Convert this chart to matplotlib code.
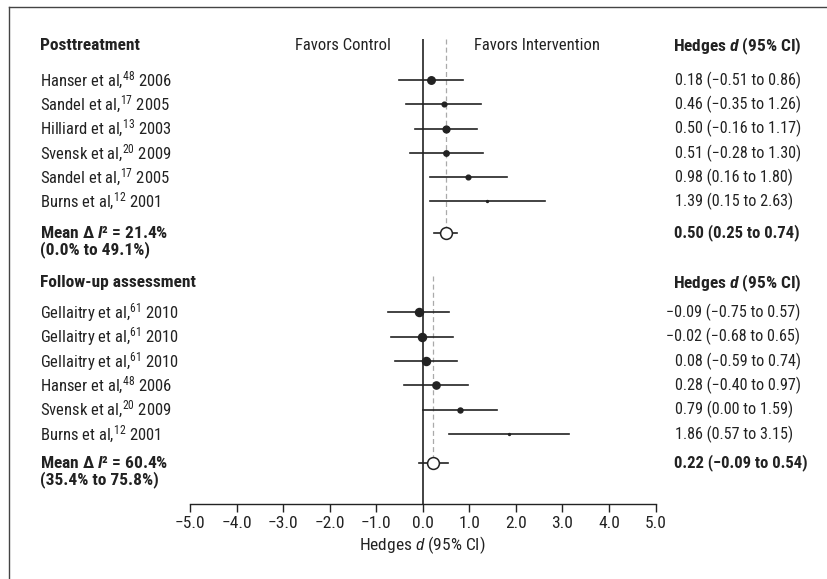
"""Forest plot of Hedges d by study, posttreatment and follow-up."""

import matplotlib

matplotlib.use("Agg")
import matplotlib.pyplot as plt
import matplotlib.transforms as mtransforms
from matplotlib import font_manager
from matplotlib.lines import Line2D

# prefer a condensed sans if one is around
_names = {f.name for f in font_manager.fontManager.ttflist}
FONT = next(n for n in ["Liberation Sans Narrow", "Roboto Condensed", "Roboto",
                        "Liberation Sans", "DejaVu Sans"] if n in _names)
plt.rcParams["font.family"] = [FONT, "DejaVu Sans"]
plt.rcParams["mathtext.fontset"] = "custom"
plt.rcParams["mathtext.rm"] = FONT
plt.rcParams["mathtext.it"] = FONT + ":italic"
plt.rcParams["mathtext.bf"] = FONT + ":bold:italic"

INK = "#222222"

# posttreatment studies
post_labels = [
    "Hanser et al,$^{48}$ 2006",
    "Sandel et al,$^{17}$ 2005",
    "Hilliard et al,$^{13}$ 2003",
    "Svensk et al,$^{20}$ 2009",
    "Sandel et al,$^{17}$ 2005",
    "Burns et al,$^{12}$ 2001",
]
post_d = [0.18, 0.46, 0.50, 0.51, 0.98, 1.39]
post_lo = [-0.51, -0.35, -0.16, -0.28, 0.16, 0.15]
post_hi = [0.86, 1.26, 1.17, 1.30, 1.80, 2.63]
post_weight = [5.4, 3.4, 4.9, 3.9, 3.4, 1.4]
post_mean = (0.50, 0.25, 0.74)
post_i2 = ("21.4%", "0.0%", "49.1%")

# follow-up studies
follow_labels = [
    "Gellaitry et al,$^{61}$ 2010",
    "Gellaitry et al,$^{61}$ 2010",
    "Gellaitry et al,$^{61}$ 2010",
    "Hanser et al,$^{48}$ 2006",
    "Svensk et al,$^{20}$ 2009",
    "Burns et al,$^{12}$ 2001",
]
follow_d = [-0.09, -0.02, 0.08, 0.28, 0.79, 1.86]
follow_lo = [-0.75, -0.68, -0.59, -0.40, 0.00, 0.57]
follow_hi = [0.57, 0.65, 0.74, 0.97, 1.59, 3.15]
follow_weight = [5.8, 5.8, 5.8, 5.2, 3.6, 1.4]
follow_mean = (0.22, -0.09, 0.54)
follow_i2 = ("60.4%", "35.4%", "75.8%")

x_ticks = [-5.0, -4.0, -3.0, -2.0, -1.0, 0.0, 1.0, 2.0, 3.0, 4.0, 5.0]


def fmt(v):
    return f"{v:.2f}".replace("-", "\u2212")


W, H = 827, 579
fig = plt.figure(figsize=(W / 100, H / 100), dpi=100)

# frame around the panel (open on the right and bottom)
fig.add_artist(Line2D([9 / W, 9 / W], [0, 1 - 7 / H], color="#444444", lw=1.0))
fig.add_artist(Line2D([9 / W, 1], [1 - 7 / H, 1 - 7 / H], color="#444444", lw=1.0))

ax_top, ax_bottom = 39, 504
ax = fig.add_axes([190 / W, 1 - ax_bottom / H, (655.5 - 190) / W, (ax_bottom - ax_top) / H])
ax.set_xlim(-5, 5)
ax.set_ylim(ax_bottom, ax_top)  # y in pixel rows, top down
for side in ("top", "right", "left"):
    ax.spines[side].set_visible(False)
ax.spines["bottom"].set_color(INK)
ax.spines["bottom"].set_linewidth(1.0)
ax.set_yticks([])
ax.set_xticks(x_ticks)
ax.set_xticklabels([f"{t:.1f}".replace("-", "\u2212") for t in x_ticks], fontsize=12.5, color=INK)
ax.tick_params(axis="x", length=6, width=1.0, color=INK, pad=3)
ax.set_xlabel("Hedges $\\mathit{d}$ (95% CI)", fontsize=12.5, color=INK, labelpad=2)
ax.patch.set_alpha(0)

# row layout
step = 24.3
post_y = [80 + step * i for i in range(6)]
post_mean_y = 233
follow_y = [312.5 + step * i for i in range(6)]
follow_mean_y = 463

# no-effect line
ax.plot([0, 0], [ax_top, ax_bottom], color=INK, lw=1.2, zorder=1)
# pooled-effect reference lines
ax.plot([post_mean[0]] * 2, [ax_top, post_mean_y], color="#aaaaaa", lw=0.9, ls=(0, (4, 2.5)), zorder=1)
ax.plot([follow_mean[0]] * 2, [276, follow_mean_y], color="#aaaaaa", lw=0.9, ls=(0, (4, 2.5)), zorder=1)


def draw_section(ys, d, lo, hi, wt, mean, mean_y):
    for y, dv, l, h, w in zip(ys, d, lo, hi, wt):
        ax.plot([l, h], [y, y], color=INK, lw=1.2, zorder=2)
        ax.plot(dv, y, "o", color=INK, ms=w, mec=INK, zorder=3)
    ax.plot([mean[1], mean[2]], [mean_y, mean_y], color=INK, lw=1.2, zorder=2)
    ax.plot(mean[0], mean_y, "o", ms=8.5, mfc="white", mec=INK, mew=1.1, zorder=3)


draw_section(post_y, post_d, post_lo, post_hi, post_weight, post_mean, post_mean_y)
draw_section(follow_y, follow_d, follow_lo, follow_hi, follow_weight, follow_mean, follow_mean_y)

# text columns: x in figure pixels, y in row units
tr = mtransforms.blended_transform_factory(
    mtransforms.Affine2D().scale(1 / W, 1) + fig.transFigure, ax.transData
)
fs = 12          # study names, side captions
fs_val = 11.6    # effect sizes column
fs_bold = 12.5   # headers and pooled rows
left_x, val_x = 40, 675
minus_shift = mtransforms.offset_copy(tr, fig=fig, x=-9.5, units="dots")

ax.text(40, 46, "Posttreatment", transform=tr, fontsize=fs_bold, fontweight="bold", color=INK,
        va="center", clip_on=False)
ax.text(391, 46, "Favors Control", transform=tr, fontsize=fs, color=INK, ha="right",
        va="center", clip_on=False)
ax.text(474, 46, "Favors Intervention", transform=tr, fontsize=fs, color=INK,
        va="center", clip_on=False)
ax.text(673, 46, "Hedges $\\mathbf{d}$ (95% CI)", transform=tr, fontsize=fs_bold,
        fontweight="bold", color=INK, va="center", clip_on=False)

ax.text(40, 283, "Follow-up assessment", transform=tr, fontsize=fs_bold, fontweight="bold",
        color=INK, va="center", clip_on=False)
ax.text(673, 283, "Hedges $\\mathbf{d}$ (95% CI)", transform=tr, fontsize=fs_bold,
        fontweight="bold", color=INK, va="center", clip_on=False)


def label_section(ys, labels, d, lo, hi, mean, mean_y, i2):
    for y, lab, dv, l, h in zip(ys, labels, d, lo, hi):
        ax.text(left_x, y, lab, transform=tr, fontsize=fs, color=INK, va="center", clip_on=False)
        s = f"{fmt(dv)} ({fmt(l)} to {fmt(h)})"
        t = minus_shift if dv < 0 else tr
        ax.text(val_x, y, s, transform=t, fontsize=fs_val, color=INK, va="center", clip_on=False)
    ax.text(left_x, mean_y, f"Mean \u0394 $\\mathbf{{I}}$\u00b2 = {i2[0]}", transform=tr,
            fontsize=fs_bold, fontweight="bold", color=INK, va="center", clip_on=False)
    ax.text(left_x, mean_y + 17, f"({i2[1]} to {i2[2]})", transform=tr, fontsize=fs_bold,
            fontweight="bold", color=INK, va="center", clip_on=False)
    ax.text(val_x - 1, mean_y, f"{fmt(mean[0])} ({fmt(mean[1])} to {fmt(mean[2])})",
            transform=tr, fontsize=12, fontweight="bold", color=INK, va="center",
            clip_on=False)


label_section(post_y, post_labels, post_d, post_lo, post_hi, post_mean, post_mean_y, post_i2)
label_section(follow_y, follow_labels, follow_d, follow_lo, follow_hi, follow_mean,
              follow_mean_y, follow_i2)

fig.savefig("out.png", dpi=100)
